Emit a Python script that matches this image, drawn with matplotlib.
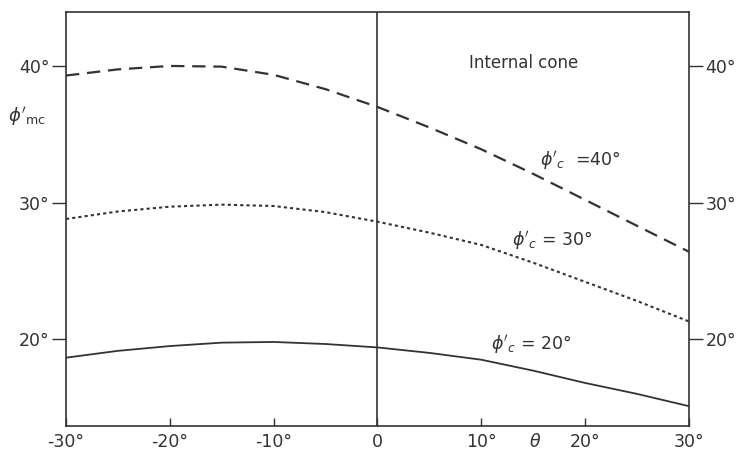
"""
Internal cone: mobilised friction angle phi'_mc against theta for three phi'_c values.
"""
import matplotlib
matplotlib.use("Agg")
import matplotlib.pyplot as plt

# values
theta = [-30, -25, -20, -15, -10, -5, 0, 5, 10, 15, 20, 25, 30]
phi_c40 = [39.3, 39.75, 40.0, 39.95, 39.35, 38.3, 37.0, 35.5, 33.9, 32.1, 30.2, 28.3, 26.4]
phi_c30 = [28.8, 29.35, 29.7, 29.85, 29.75, 29.3, 28.6, 27.8, 26.9, 25.6, 24.2, 22.8, 21.3]
phi_c20 = [18.65, 19.15, 19.5, 19.75, 19.8, 19.65, 19.4, 19.0, 18.5, 17.7, 16.8, 16.0, 15.1]

x_ticks = [-30, -20, -10, 0, 10, 20, 30]
x_labels = ["-30°", "-20°", "-10°", "0", "10°", "20°", "30°"]
y_ticks = [20, 30, 40]
y_labels = ["20°", "30°", "40°"]

INK = "#333333"
plt.rcParams["font.family"] = ["DejaVu Sans"]
plt.rcParams["mathtext.fontset"] = "dejavusans"

fig = plt.figure(figsize=(7.45, 4.59), dpi=100)
ax = fig.add_axes([0.0886, 0.0719, 0.8362, 0.902])

ax.plot(theta, phi_c40, color=INK, lw=1.6, dashes=(6, 3.5))
ax.plot(theta, phi_c30, color=INK, lw=1.5, dashes=(1.5, 1.5))
ax.plot(theta, phi_c20, color=INK, lw=1.3)
ax.axvline(0, color=INK, lw=1.2)

ax.set_xlim(-30, 30)
ax.set_ylim(13.65, 43.95)

for s in ax.spines.values():
    s.set_color(INK)
    s.set_linewidth(1.2)

ax.set_xticks(x_ticks)
ax.set_xticklabels(x_labels)
ax.set_yticks(y_ticks)
ax.set_yticklabels(y_labels)
ax.tick_params(axis="x", direction="in", length=6, width=1.0, color=INK,
               labelsize=12.5, labelcolor=INK, pad=5)
ax.tick_params(axis="y", direction="out", length=10, width=1.0, color=INK,
               labelsize=12.5, labelcolor=INK, pad=2, right=True, labelright=True)

# axis labels
fig.text(27 / 745, 1 - 116 / 459, r"$\phi'_{\mathrm{mc}}$", color=INK, fontsize=13,
         ha="center", va="center")
fig.text(535 / 745, 1 - 442 / 459, r"$\theta$", color=INK, fontsize=12.5,
         ha="center", va="center")

# annotations inside the plot
ax.text(14.1, 40.2, "Internal cone", color=INK, fontsize=12, ha="center", va="center")
ax.text(19.5, 33.1, r"$\phi'_c$  =40°", color=INK, fontsize=12.5, ha="center", va="center")
ax.text(16.8, 27.2, r"$\phi'_c$ = 30°", color=INK, fontsize=12.5, ha="center", va="center")
ax.text(14.8, 19.6, r"$\phi'_c$ = 20°", color=INK, fontsize=12.5, ha="center", va="center")

fig.savefig("out.png", dpi=100)
